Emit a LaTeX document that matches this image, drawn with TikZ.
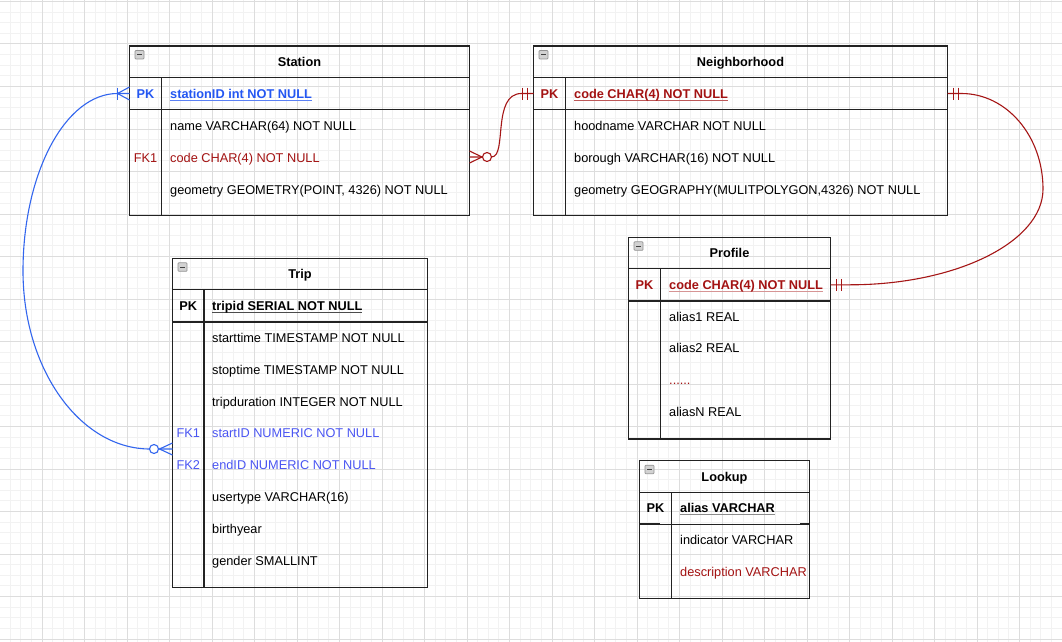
\documentclass[tikz,border=0pt]{standalone}
\usepackage{fontspec}
\setmainfont{Liberation Sans}
\usetikzlibrary{calc}

\definecolor{gridminor}{HTML}{F2F2F2}
\definecolor{gridmajor}{HTML}{DDDDDD}
\definecolor{framec}{HTML}{222222}
\definecolor{pkblue}{HTML}{2457F2}
\definecolor{fkblue}{HTML}{4A55F2}
\definecolor{linkblue}{HTML}{3366EE}
\definecolor{darkred}{HTML}{A31212}
\definecolor{linkred}{HTML}{A51616}

\newcommand{\erfont}{\fontsize{12.75pt}{15pt}\selectfont}
\newsavebox\ulbox
% underlined key text with an underline of its own colour
\newcommand{\ulin}[2]{\sbox\ulbox{#2}\rlap{\color{#1}\rule[-2.4pt]{\wd\ulbox}{0.9pt}}\usebox\ulbox}

% #1 name, #2 left, #3 top, #4 right, #5 key column edge, #6 bottom, #7 title
\newcommand{\ertable}[7]{%
  \node[frame, anchor=north west, minimum width={#4-#2}, minimum height={#6-#3}] (#1) at (#2,#3) {};
  \draw[rule] (#2,{#3+31.5}) -- (#4,{#3+31.5});
  \draw[rule] (#2,{#3+63.6}) -- (#4,{#3+63.6});
  \draw[rule] (#5,{#3+31.5}) -- (#5,#6);
  \node[title] (#1-title) at ({(#2+#4)/2},{#3+20.5}) {#7};
  \draw[draw=gray!85, fill=gray!35, line width=0.7pt, rounded corners=0.8pt] ({#2+5.5},{#3+4.5}) rectangle ({#2+14.5},{#3+13});
  \draw[draw=black!75, line width=1.1pt] ({#2+7.5},{#3+8.8}) -- ({#2+12.5},{#3+8.8});
  \node[rowarea, anchor=north west, minimum width={#4-#2}] (#1-pk) at (#2,{#3+31.5}) {};
}

\begin{document}
\begin{tikzpicture}[x=1pt, y=-1pt,
  frame/.style={draw=framec, line width=1.3pt, inner sep=0pt, outer sep=0pt},
  rule/.style={draw=framec, line width=1.2pt},
  title/.style={inner sep=0pt, anchor=base, font=\erfont\bfseries},
  keylbl/.style={inner sep=0pt, anchor=base, font=\erfont},
  fieldlbl/.style={inner sep=0pt, anchor=base west, font=\erfont},
  rowarea/.style={inner sep=0pt, outer sep=0pt, minimum height=32pt},
  blueline/.style={draw=linkblue, line width=1.1pt},
  redline/.style={draw=linkred, line width=1.1pt}]

\useasboundingbox (0,0) rectangle (1062,642);
\fill[white] (0,0) rectangle (1062,642);

% background grid
\foreach \i in {0,...,100} \draw[gridminor, line width=1pt] ({\i*10.625-0.5},0) -- ({\i*10.625-0.5},642);
\foreach \j in {0,...,60} \draw[gridminor, line width=1pt] (0,{\j*10.625+1.5}) -- (1062,{\j*10.625+1.5});
\foreach \i in {0,...,25} \draw[gridmajor, line width=1pt] ({\i*42.5-0.5},0) -- ({\i*42.5-0.5},642);
\foreach \j in {0,...,15} \draw[gridmajor, line width=1pt] (0,{\j*42.5+1.5}) -- (1062,{\j*42.5+1.5});

% ---------- Station ----------
\ertable{st}{129.5}{46}{469.5}{161.5}{215.3}{Station}
\node[keylbl, font=\erfont\bfseries, text=pkblue] (st-k0) at (145.5,98) {PK};
\node[fieldlbl, font=\erfont\bfseries, text=pkblue] (st-f0) at (170,98) {\ulin{pkblue!75}{stationID int NOT NULL}};
\node[fieldlbl] (st-f1) at (170,130) {name VARCHAR(64) NOT NULL};
\node[keylbl, text=darkred] (st-k2) at (145.5,162) {FK1};
\node[fieldlbl, text=darkred] (st-f2) at (170,162) {code CHAR(4) NOT NULL};
\node[fieldlbl] (st-f3) at (170,194) {geometry GEOMETRY(POINT, 4326) NOT NULL};
\node[rowarea, anchor=north west, minimum width=340] (st-code) at (129.5,141) {};

% ---------- Neighborhood ----------
\ertable{nb}{533.5}{46}{947.5}{565.5}{215.3}{Neighborhood}
\node[keylbl, font=\erfont\bfseries, text=darkred] (nb-k0) at (549.5,98) {PK};
\node[fieldlbl, font=\erfont\bfseries, text=darkred] (nb-f0) at (574,98) {\ulin{darkred!70}{code CHAR(4) NOT NULL}};
\node[fieldlbl] (nb-f1) at (574,130) {hoodname VARCHAR NOT NULL};
\node[fieldlbl] (nb-f2) at (574,162) {borough VARCHAR(16) NOT NULL};
\node[fieldlbl] (nb-f3) at (574,194) {geometry GEOGRAPHY(MULITPOLYGON,4326) NOT NULL};

% ---------- Trip ----------
\ertable{tr}{172.5}{258.3}{427.5}{204}{587.3}{Trip}
\node[keylbl, font=\erfont\bfseries] (tr-k0) at (188.3,310.3) {PK};
\node[fieldlbl, font=\erfont\bfseries] (tr-f0) at (212,310.3) {\ulin{black!70}{tripid SERIAL NOT NULL}};
\node[fieldlbl] (tr-f1) at (212,342.5) {starttime TIMESTAMP NOT NULL};
\node[fieldlbl] (tr-f2) at (212,374.5) {stoptime TIMESTAMP NOT NULL};
\node[fieldlbl] (tr-f3) at (212,406.5) {tripduration INTEGER NOT NULL};
\node[keylbl, text=fkblue] (tr-k4) at (188.3,437.5) {FK1};
\node[fieldlbl, text=fkblue] (tr-f4) at (212,437.5) {startID NUMERIC NOT NULL};
\node[keylbl, text=fkblue] (tr-k5) at (188.3,469.5) {FK2};
\node[fieldlbl, text=fkblue] (tr-f5) at (212,469.5) {endID NUMERIC NOT NULL};
\node[fieldlbl] (tr-f6) at (212,501.5) {usertype VARCHAR(16)};
\node[fieldlbl] (tr-f7) at (212,533.5) {birthyear};
\node[fieldlbl] (tr-f8) at (212,565.5) {gender SMALLINT};
\node[rowarea, anchor=north west, minimum width=255, minimum height=64] (tr-fk) at (172.5,417) {};

% ---------- Profile ----------
\ertable{pf}{628.5}{237.3}{830.5}{660.5}{439}{Profile}
\draw[framec, line width=2pt] (628.5,300.9) -- ++(22,0);
\draw[framec, line width=2pt] (830.5,300.9) -- ++(-22,0);
\node[keylbl, font=\erfont\bfseries, text=darkred] (pf-k0) at (644.5,289.3) {PK};
\node[fieldlbl, font=\erfont\bfseries, text=darkred] (pf-f0) at (669,289.3) {\ulin{darkred!45}{code CHAR(4) NOT NULL}};
\node[fieldlbl] (pf-f1) at (669,321.5) {alias1 REAL};
\node[fieldlbl] (pf-f2) at (669,352.5) {alias2 REAL};
\node[fieldlbl, text=darkred] (pf-f3) at (669,384.5) {......};
\node[fieldlbl] (pf-f4) at (669,416.5) {aliasN REAL};

% ---------- Lookup ----------
\ertable{lk}{639.5}{460.7}{809.5}{671.5}{598.3}{Lookup}
\draw[framec, line width=2pt] (639.5,524.3) -- ++(20,0);
\draw[framec, line width=2pt] (809.5,524.3) -- ++(-10,0);
\node[keylbl, font=\erfont\bfseries] (lk-k0) at (655.5,512.7) {PK};
\node[fieldlbl, font=\erfont\bfseries] (lk-f0) at (680,512.7) {\ulin{black!45}{alias VARCHAR}};
\node[fieldlbl] (lk-f1) at (680,544.5) {indicator VARCHAR};
\node[fieldlbl, text=darkred] (lk-f2) at (680,576.5) {description VARCHAR};

% ---------- Station PK  <->  Trip start/end ----------
\coordinate (bluebend) at (23,271);
\draw[blueline] (st-pk.west) -- ++(-12,0) .. controls +(-52,0) and +(0,-98) .. (bluebend)
  .. controls +(0,98) and +(-70,0) .. ($(tr-fk.west)+(-22.5,0)$) -- (tr-fk.west);
\draw[blueline] ($(st-pk.west)+(-12,-6)$) -- ++(0,12);
\draw[blueline] ($(st-pk.west)+(0,-6.5)$) -- ($(st-pk.west)+(-12,0)$) -- ($(st-pk.west)+(0,6.5)$);
\draw[blueline, fill=white] ($(tr-fk.west)+(-18.5,0)$) circle[radius=4.5];
\draw[blueline] ($(tr-fk.west)+(0,-6)$) -- ($(tr-fk.west)+(-13,0)$) -- ($(tr-fk.west)+(0,6)$);

% ---------- Station code  <->  Neighborhood PK ----------
\draw[redline] (st-code.east) -- ++(22,0) .. controls +(16,0) and +(-30,0) .. ($(nb-pk.west)+(-12,0)$) -- (nb-pk.west);
\draw[redline] ($(st-code.east)+(0,-6)$) -- ($(st-code.east)+(12.5,0)$) -- ($(st-code.east)+(0,6)$);
\draw[redline, fill=white] ($(st-code.east)+(17.5,0)$) circle[radius=4.5];
\draw[redline] ($(nb-pk.west)+(-6,-6)$) -- ++(0,12);
\draw[redline] ($(nb-pk.west)+(-11,-6)$) -- ++(0,12);

% ---------- Neighborhood PK  <->  Profile PK ----------
\coordinate (redbend) at (1043,189);
\draw[redline] (nb-pk.east) -- ++(14,0) .. controls +(45,0) and +(0,-53) .. (redbend)
  .. controls +(0,53) and +(106,0) .. ($(pf-pk.east)+(19.5,0)$) -- (pf-pk.east);
\draw[redline] ($(nb-pk.east)+(6,-6)$) -- ++(0,12);
\draw[redline] ($(nb-pk.east)+(11,-6)$) -- ++(0,12);
\draw[redline] ($(pf-pk.east)+(6,-6)$) -- ++(0,12);
\draw[redline] ($(pf-pk.east)+(11,-6)$) -- ++(0,12);

\end{tikzpicture}
\end{document}
